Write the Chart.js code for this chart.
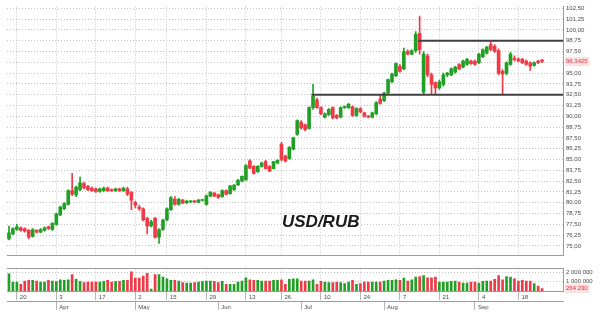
<!DOCTYPE html>
<html><head><meta charset="utf-8">
<script src="https://cdn.jsdelivr.net/npm/chart.js@4.4.0/dist/chart.umd.min.js"></script>
<style>
html,body{margin:0;padding:0;background:#fff;}
#wrap{position:relative;width:600px;height:312px;overflow:hidden;}
#c1{position:absolute;left:0;top:0;}
#c2{position:absolute;left:0;top:262px;}
#wm{position:absolute;left:282px;top:213px;font:italic bold 17px "Liberation Sans",Arial,sans-serif;line-height:17px;color:#1a1a1a;white-space:nowrap;}
</style></head>
<body><div id="wrap">
<canvas id="c1" width="600" height="262"></canvas>
<canvas id="c2" width="600" height="50"></canvas>
<div id="wm">USD/RUB</div>
</div>
<script>
const dates = ['03-16','03-17','03-20','03-21','03-22','03-23','03-24','03-27','03-28','03-29','03-30','03-31',
'04-03','04-04','04-05','04-06','04-07','04-10','04-11','04-12','04-13','04-14','04-17','04-18','04-19','04-20','04-21','04-24','04-25','04-26','04-27','04-28',
'05-02','05-03','05-04','05-05','05-08','05-10','05-11','05-12','05-15','05-16','05-17','05-18','05-19','05-22','05-23','05-24','05-25','05-26','05-29','05-30','05-31',
'06-01','06-02','06-05','06-06','06-07','06-08','06-09','06-13','06-14','06-15','06-16','06-19','06-20','06-21','06-22','06-23','06-26','06-27','06-28','06-29','06-30',
'07-03','07-04','07-05','07-06','07-07','07-10','07-11','07-12','07-13','07-14','07-17','07-18','07-19','07-20','07-21','07-24','07-25','07-26','07-27','07-28','07-31',
'08-01','08-02','08-03','08-04','08-07','08-08','08-09','08-10','08-11','08-14','08-15','08-16','08-17','08-18','08-21','08-22','08-23','08-24','08-25','08-28','08-29','08-30','08-31',
'09-01','09-04','09-05','09-06','09-07','09-08','09-11','09-12','09-13','09-14','09-15','09-18','09-19','09-20','09-21','09-22','09-25','09-26'];

const open = [75.8,76.4,76.9,77.1,77.0,76.8,76.1,76.8,76.6,76.8,
77.2,76.9,77.5,78.6,79.3,79.8,81.4,80.9,81.5,82.2,
81.9,81.7,81.6,81.3,81.4,81.7,81.5,81.35,81.6,81.4,
81.6,81.2,80.0,79.5,79.3,78.2,77.3,78.2,76.0,76.9,
78.0,79.2,80.4,79.8,80.3,80.0,80.1,80.15,80.05,80.25,
79.8,80.75,81.1,80.95,80.7,81.4,81.05,81.5,82.05,82.5,
82.65,84.85,84.2,83.6,84.2,84.75,84.2,83.95,84.6,86.8,
85.4,85.1,86.2,87.9,89.3,89.0,88.6,91.0,91.9,91.0,
89.9,90.2,91.0,90.1,89.9,91.0,91.0,91.1,90.1,90.9,
90.4,90.0,89.9,90.3,92.0,91.8,92.7,94.0,94.7,95.8,
95.5,97.5,97.2,97.6,99.6,92.8,97.0,94.8,93.9,93.3,
93.7,94.8,94.8,95.1,96.0,95.7,96.0,96.4,96.4,96.2,
96.9,97.3,98.3,98.1,97.6,95.2,95.0,96.0,96.7,96.6,
96.6,96.4,96.2,95.9,96.4,96.5];

const high = [77.3,77.1,77.5,77.2,77.1,76.9,77.0,76.9,77.0,77.2,
77.3,77.7,78.8,79.6,80.0,81.5,83.4,81.9,83.0,82.4,
82.0,81.8,81.7,81.7,81.8,81.8,81.6,81.7,81.7,81.8,
81.8,81.3,80.2,79.7,79.4,78.3,78.0,78.3,77.0,78.1,
79.4,80.7,80.7,80.5,80.4,80.3,80.25,80.25,80.4,80.4,
80.9,81.3,81.2,81.0,81.5,81.5,82.0,82.1,82.7,83.1,
84.4,85.0,84.3,84.3,84.7,84.9,84.3,84.8,85.0,87.0,
85.5,86.5,87.6,89.6,89.5,89.1,91.1,93.7,92.1,91.1,
90.4,90.9,91.1,90.2,91.1,91.2,91.5,91.2,91.0,91.0,
90.5,90.1,90.5,91.7,92.5,92.8,94.3,95.0,96.2,96.0,
97.9,97.7,97.7,99.8,101.6,97.5,97.2,95.0,94.0,94.2,
95.0,95.1,95.6,95.8,96.1,96.5,96.7,96.5,96.5,97.3,
97.8,98.1,98.6,98.3,97.8,95.4,96.3,97.4,97.0,96.8,
96.7,96.5,96.3,96.3,96.5,96.6];

const low = [75.7,76.3,76.8,76.7,76.6,75.8,76.0,76.5,76.5,76.7,
76.9,76.8,77.4,78.5,79.2,79.7,80.8,80.7,81.4,81.6,
81.4,81.3,81.2,81.2,81.3,81.3,81.3,81.3,81.3,81.3,
80.8,79.2,79.4,79.1,77.9,76.4,77.2,75.9,75.3,76.8,
77.9,79.1,79.7,79.7,79.9,79.9,80.0,80.0,80.0,80.2,
79.7,80.7,80.7,80.5,80.6,80.9,81.0,81.4,82.0,82.4,
82.6,83.95,83.3,83.5,84.1,83.9,83.6,83.9,84.5,84.8,
84.7,85.0,86.1,87.8,88.5,88.3,88.5,90.8,90.9,90.2,
89.8,90.1,89.7,89.7,89.8,90.9,90.9,90.0,90.0,90.4,
89.9,89.8,89.8,90.2,91.4,91.7,92.6,93.9,94.6,95.1,
95.4,97.1,97.1,97.4,97.2,92.5,94.6,92.6,92.5,93.1,
93.5,94.6,94.7,95.0,95.4,95.6,95.9,96.0,95.9,96.1,
96.8,97.2,97.6,97.4,94.8,92.6,94.8,95.9,96.4,96.3,
96.1,95.9,95.3,95.8,96.1,96.2];

const close = [76.5,77.0,77.2,76.8,76.7,76.0,76.9,76.6,76.9,77.1,
77.0,77.6,78.7,79.5,79.9,81.4,81.0,81.8,82.3,81.7,
81.5,81.4,81.3,81.6,81.7,81.4,81.4,81.6,81.4,81.7,
81.0,80.3,79.7,79.3,78.0,77.3,77.8,76.0,76.9,78.0,
79.3,80.6,79.8,80.4,79.95,80.2,80.15,80.1,80.3,80.3,
80.8,81.2,80.75,80.6,81.4,80.95,81.95,82.05,82.6,83.05,
84.3,84.0,83.4,84.2,84.6,83.95,83.65,84.75,84.9,85.0,
84.85,86.4,87.5,89.5,88.65,88.45,91.0,92.3,91.0,90.3,
90.3,90.8,89.8,89.8,91.0,91.1,91.4,90.1,90.9,90.5,
90.0,89.9,90.4,91.6,91.5,92.7,94.25,94.9,96.1,95.2,
97.5,97.2,97.6,99.5,97.7,97.2,94.8,93.7,93.3,94.0,
94.8,95.0,95.5,95.7,95.5,96.4,96.6,96.1,96.0,97.2,
97.7,98.0,97.7,97.5,95.0,94.9,96.2,97.2,96.6,96.4,
96.2,96.0,95.8,96.2,96.2,96.3425];

const volume = [1830000,960000,960000,720000,1070000,1140000,1140000,1070000,960000,960000,
1140000,1070000,1000000,1210000,1140000,1210000,1760000,1240000,1030000,900000,
960000,960000,960000,960000,1030000,1140000,960000,1030000,1030000,1140000,
1140000,2050000,1380000,1380000,1590000,1900000,210000,1760000,1760000,1480000,
1310000,1140000,1140000,1070000,900000,860000,860000,900000,960000,1030000,
1070000,1070000,1030000,900000,1030000,720000,720000,720000,960000,1070000,
1410000,1210000,1140000,1140000,1070000,1070000,1070000,1140000,1140000,1210000,
720000,1240000,1310000,1310000,1070000,1070000,1070000,1210000,720000,1030000,
960000,900000,900000,960000,900000,790000,960000,1140000,720000,790000,
960000,960000,960000,960000,960000,1070000,1140000,1140000,1210000,1140000,
1380000,1070000,1210000,1480000,1550000,1660000,1410000,1410000,1480000,960000,
960000,960000,1030000,1070000,960000,860000,860000,960000,960000,860000,
1030000,1070000,1070000,1240000,1660000,1210000,1550000,1480000,1310000,1070000,
1140000,1070000,1070000,790000,520000,264230];

const priceTicks = [75,76.25,77.5,78.75,80,81.25,82.5,83.75,85,86.25,87.5,88.75,90,91.25,92.5,93.75,95,96.25,97.5,98.75,100,101.25,102.5];
const volumeTicks = [1000000,2000000];
const dayTickDates = ['03-20','04-03','04-17','05-02','05-15','05-29','06-13','06-26','07-10','07-24','08-07','08-21','09-04','09-18'];
const dayTickLabels = ['20','3','17','2','15','29','13','26','10','24','7','21','4','18'];
const monthStartDates = ['04-03','05-02','06-01','07-03','08-01','09-01'];
const monthLabels = ['Apr','May','Jun','Jul','Aug','Sep'];
const levelValues = [92.5, 98.75];
const levelStartDates = ['07-06','08-14'];

const idx = d => dates.indexOf(d);
const lastClose = close[close.length-1];
const lastVol = volume[volume.length-1];
const GREEN = '#22a025', RED = '#ef3b47', TAG_RED = '#e8303a', TAG_BG = '#fbe2e2';
const colors = close.map((c,i) => c >= open[i] ? GREEN : RED);
const X_MIN = -0.5, X_MAX = 140.3;
const FONT = {family:'"Liberation Sans", Arial, sans-serif', size:6};
const GRID = '#c2c2c2', AXIS = '#9c9c9c', TXT = '#4a4a4a';
const fmtPrice = v => v.toFixed(2).replace('.', ',');
const fmtVol = v => String(Math.round(v)).replace(/\B(?=(\d{3})+(?!\d))/g, ' ');

const dayTickIdx = dayTickDates.map(idx);
const monthTickIdx = monthStartDates.map(idx);

new Chart(document.getElementById('c1'), {
  type: 'bar',
  data: { datasets: [
    { data: dates.map((d,i) => ({x:i, y:[low[i], high[i]]})), backgroundColor: colors, barThickness: 1, grouped: false, order: 2 },
    { data: dates.map((d,i) => ({x:i, y:[open[i], close[i]]})), backgroundColor: colors, barThickness: 3, grouped: false, minBarLength: 1, order: 1 },
    ...levelValues.map((lv,k) => ({ type:'line', data:[{x: idx(levelStartDates[k]) - 0.4, y: lv}, {x: X_MAX, y: lv}],
        borderColor:'#404040', borderWidth:2, pointRadius:0, order:0 }))
  ]},
  options: {
    responsive:false, animation:false, devicePixelRatio:1,
    layout:{padding:{left:7, top:2, right:0, bottom:2}},
    plugins:{legend:{display:false}, tooltip:{enabled:false}},
    scales:{
      x:{ type:'linear', min:X_MIN, max:X_MAX, offset:false,
          afterBuildTicks: a => { a.ticks = dayTickIdx.map(v => ({value:v})); },
          afterFit: a => { a.height = 0; },
          ticks:{display:false, autoSkip:false},
          grid:{offset:false, color:GRID, drawTicks:false},
          border:{display:true, color:AXIS, dash:[1,2]} },
      y:{ position:'right', min:73.9, max:102.7,
          afterBuildTicks: a => { a.ticks = priceTicks.concat([lastClose]).sort((p,q)=>p-q).map(v => ({value:v})); },
          afterFit: a => { a.width = 37; },
          ticks:{ font:FONT, padding:3, autoSkip:false,
            color: c => (c.tick && c.tick.value === lastClose) ? TAG_RED : TXT,
            callback: v => v === lastClose ? lastClose.toFixed(4).replace('.', ',') : (Math.abs(v - lastClose) < 0.7 ? '' : fmtPrice(v)),
            showLabelBackdrop: c => !!(c.tick && c.tick.value === lastClose),
            backdropColor: TAG_BG, backdropPadding:{top:1,bottom:1,left:1,right:2} },
          grid:{ drawTicks:false, color: c => (c.tick && c.tick.value === lastClose) ? 'rgba(0,0,0,0)' : GRID },
          border:{display:true, color:AXIS, dash:[1,2]} }
    }
  }
});

const axisRow = (tickIdx, labels, onArea) => ({
  type:'linear', position:'bottom', min:X_MIN, max:X_MAX, offset:false,
  afterBuildTicks: a => { a.ticks = tickIdx.map(v => ({value:v})); },
  afterFit: a => { a.height = 10; },
  ticks:{ font:FONT, color:TXT, align:'start', labelOffset:3, padding:-6, autoSkip:false, maxRotation:0, minRotation:0,
          callback: (v,i) => labels[i] },
  grid:{ offset:false, color:GRID, drawOnChartArea:onArea, drawTicks:true, tickLength:9, tickColor:'#b4b4b4' },
  border:{display:true, color:AXIS, dash:[1,2]}
});

new Chart(document.getElementById('c2'), {
  type: 'bar',
  data: { datasets: [
    { data: dates.map((d,i) => ({x:i, y:volume[i]})), backgroundColor: colors, barThickness: 2, xAxisID:'x', yAxisID:'y' }
  ]},
  options: {
    responsive:false, animation:false, devicePixelRatio:1,
    layout:{padding:{left:7, top:3, right:0, bottom:1}},
    plugins:{legend:{display:false}, tooltip:{enabled:false}},
    scales:{
      x: axisRow(dayTickIdx, dayTickLabels, true),
      xm: axisRow(monthTickIdx, monthLabels, false),
      xt:{ type:'linear', position:'top', min:X_MIN, max:X_MAX, ticks:{display:false}, grid:{display:false},
           border:{display:true, color:AXIS}, afterFit: a => { a.height = 0; } },
      y:{ position:'right', min:0, max:2400000,
          afterBuildTicks: a => { a.ticks = [lastVol].concat(volumeTicks).map(v => ({value:v})); },
          afterFit: a => { a.width = 37; },
          ticks:{ font:FONT, padding:3, autoSkip:false,
            color: c => (c.tick && c.tick.value === lastVol) ? TAG_RED : TXT,
            callback: v => fmtVol(v),
            showLabelBackdrop: c => !!(c.tick && c.tick.value === lastVol),
            backdropColor: TAG_BG, backdropPadding:{top:1,bottom:1,left:1,right:2} },
          grid:{ drawTicks:false, color: c => (c.tick && c.tick.value === lastVol) ? 'rgba(0,0,0,0)' : GRID },
          border:{display:true, color:AXIS, dash:[1,2]} }
    }
  }
});
</script>
</body></html>
